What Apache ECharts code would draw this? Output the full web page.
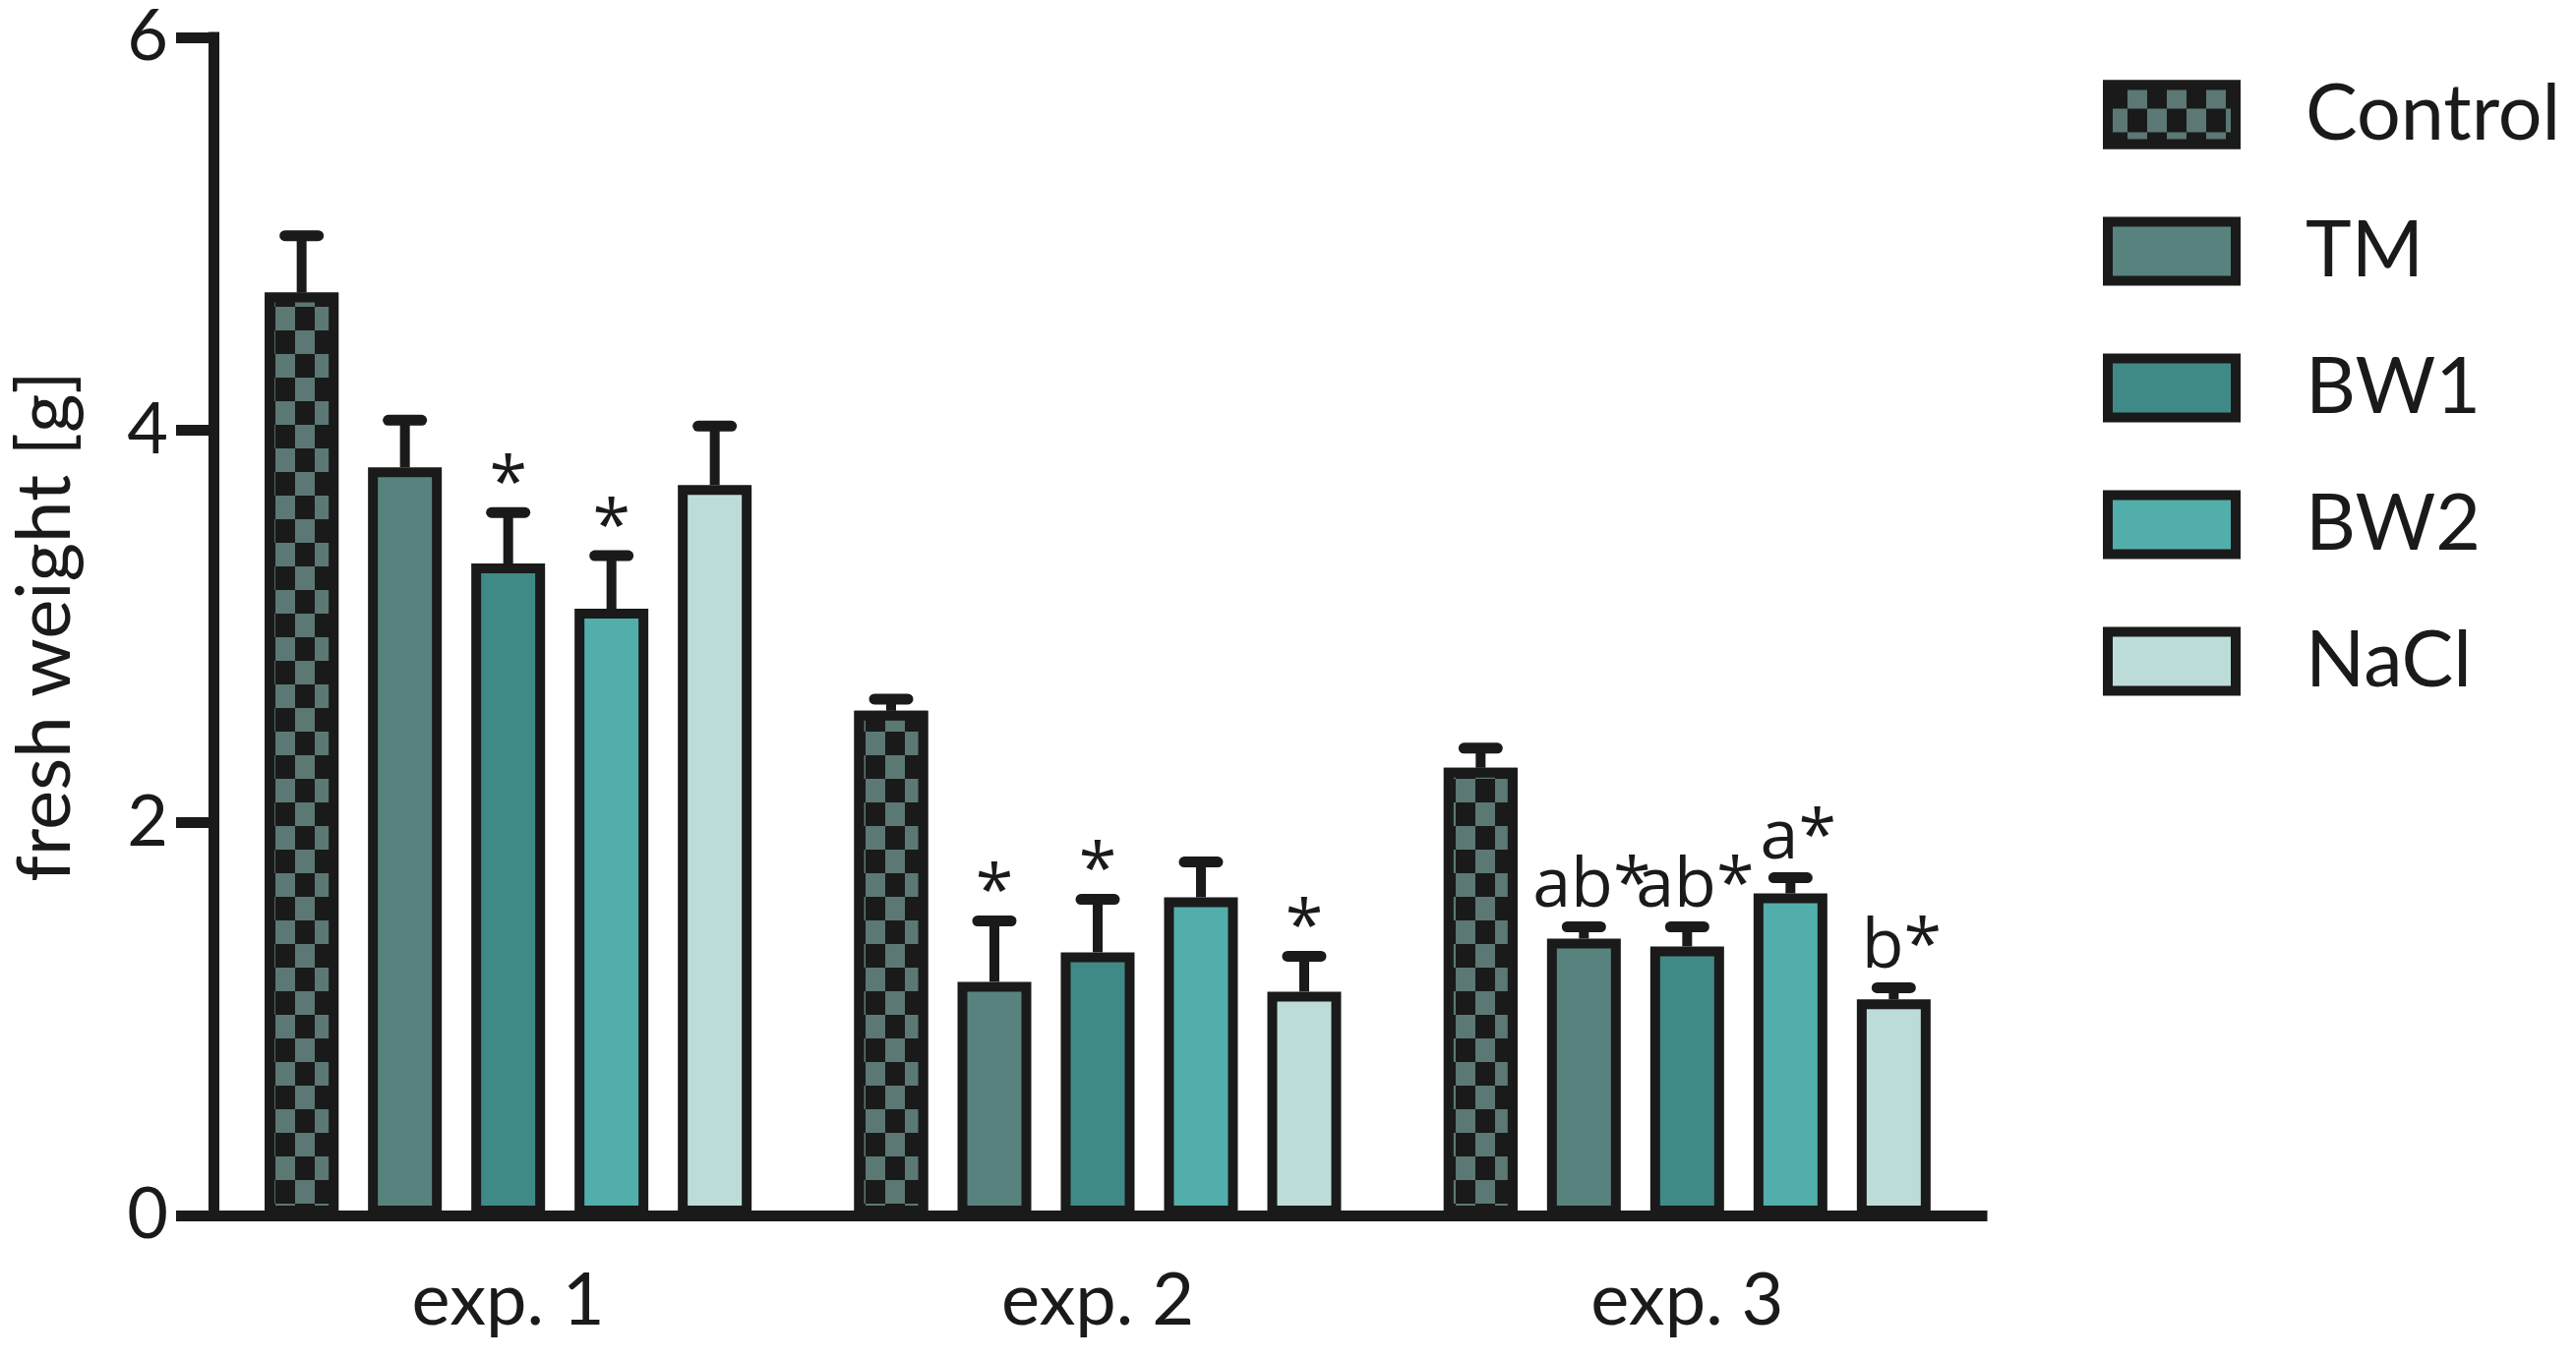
<!DOCTYPE html>
<html><head><meta charset="utf-8">
<script src="https://cdn.jsdelivr.net/npm/echarts@6/dist/echarts.min.js"></script>
<style>html,body{margin:0;padding:0;background:#fff}#c{width:2619px;height:1383px}</style>
</head><body><div id="c"></div>
<script>
// ---- data ----
const categories = ['exp. 1', 'exp. 2', 'exp. 3'];
const seriesNames = ['Control', 'TM', 'BW1', 'BW2', 'NaCl'];
const controlValues = [4.70, 2.57, 2.28];
const controlErrors = [0.29, 0.06, 0.10];
const tmValues = [3.81, 1.19, 1.41];
const tmErrors = [0.24, 0.31, 0.06];
const bw1Values = [3.32, 1.34, 1.37];
const bw1Errors = [0.26, 0.27, 0.10];
const bw2Values = [3.09, 1.62, 1.64];
const bw2Errors = [0.27, 0.18, 0.08];
const naclValues = [3.72, 1.14, 1.10];
const naclErrors = [0.30, 0.18, 0.06];
const controlMarks = ['', '', ''];
const tmMarks = ['', '*', 'ab*'];
const bw1Marks = ['*', '*', 'ab*'];
const bw2Marks = ['*', '', 'a*'];
const naclMarks = ['', '*', 'b*'];
const yTickValues = [0, 2, 4, 6];

// ---- style ----
const INK = '#1a1a1a';
const FONT = 'Lato';
const fills = ['#1a1a1a', '#58827d', '#3f8a87', '#52aeaa', '#bcdcd9'];
const BAR_W = 75, BAR_GAP = 30, PERIOD = BAR_W + BAR_GAP;

const allValues = [controlValues, tmValues, bw1Values, bw2Values, naclValues];
const allErrors = [controlErrors, tmErrors, bw1Errors, bw2Errors, naclErrors];
const allMarks = [controlMarks, tmMarks, bw1Marks, bw2Marks, naclMarks];

const checker = {
  symbol: 'rect', symbolSize: 1, symbolKeepAspect: false,
  color: '#5b7874',
  dashArrayX: [[20, 20], [0, 20, 20, 0]],
  dashArrayY: [24, 0]
};

const series = [];
seriesNames.forEach((name, si) => {
  const item = { color: fills[si], borderColor: INK, borderWidth: 10 };
  if (si === 0) item.decal = checker;
  series.push({
    type: 'bar', name: name, data: allValues[si],
    barWidth: BAR_W, barGap: (BAR_GAP / BAR_W * 100).toFixed(2) + '%',
    itemStyle: item, z: 2
  });
});
seriesNames.forEach((name, si) => {
  const marks = allMarks[si];
  series.push({
    type: 'custom', name: name + ' err', z: 5, silent: true,
    data: allValues[si].map((v, i) => [i, v, allErrors[si][i]]),
    encode: { x: 0, y: 1 },
    renderItem: (params, api) => {
      const ci = api.value(0), v = api.value(1), e = api.value(2);
      const base = api.coord([ci, v]);
      const top = api.coord([ci, v + e]);
      const x = base[0] + (si - 2) * PERIOD;
      const children = [
        { type: 'line', shape: { x1: x, y1: base[1], x2: x, y2: top[1] },
          style: { stroke: INK, lineWidth: 10 } },
        { type: 'line', shape: { x1: x - 17, y1: top[1], x2: x + 17, y2: top[1] },
          style: { stroke: INK, lineWidth: 11, lineCap: 'round' } }
      ];
      const lab = marks[params.dataIndex];
      if (lab) {
        const onlyStar = lab === '*';
        const y = onlyStar ? top[1] + 8 : top[1] - 5;
        children.push({ type: 'text', x: onlyStar ? x : x + 8, y: y,
          style: { text: lab, fill: INK, fontFamily: 'Open Sans', fontSize: 70,
                   align: 'center', verticalAlign: 'bottom' } });
      }
      return { type: 'group', children: children };
    }
  });
});

const chart = echarts.init(document.getElementById('c'));
chart.setOption({
  animation: false,
  backgroundColor: '#fff',
  grid: { left: 213, right: 604, top: 38, bottom: 147, containLabel: false },
  legend: {
    data: seriesNames, orient: 'vertical', left: 2138, top: 77,
    padding: 0, itemWidth: 130, itemHeight: 60, itemGap: 60, icon: 'rect',
    itemStyle: { borderColor: INK, borderWidth: 10 },
    textStyle: { fontFamily: FONT, fontSize: 79, color: INK,
                 padding: [0, 0, 0, 66] },
    selectedMode: false
  },
  xAxis: {
    type: 'category', data: categories,
    axisLine: { lineStyle: { color: INK, width: 11, cap: 'square' } },
    axisTick: { alignWithLabel: true, length: 40, lineStyle: { color: INK, width: 11 } },
    axisLabel: { fontFamily: FONT, fontSize: 74, color: INK, margin: 50, interval: 0 }
  },
  yAxis: {
    type: 'value', min: yTickValues[0], max: yTickValues[yTickValues.length - 1],
    interval: yTickValues[1] - yTickValues[0],
    name: 'fresh weight [g]', nameLocation: 'middle', nameRotate: 90, nameGap: 133,
    nameTextStyle: { fontFamily: FONT, fontSize: 76, color: INK },
    splitLine: { show: false },
    axisLine: { show: true, lineStyle: { color: INK, width: 11, cap: 'square' } },
    axisTick: { show: true, length: 38, lineStyle: { color: INK, width: 11 } },
    axisLabel: { fontFamily: FONT, fontSize: 72, color: INK, margin: 46 }
  },
  series: series
});
</script>
</body></html>
